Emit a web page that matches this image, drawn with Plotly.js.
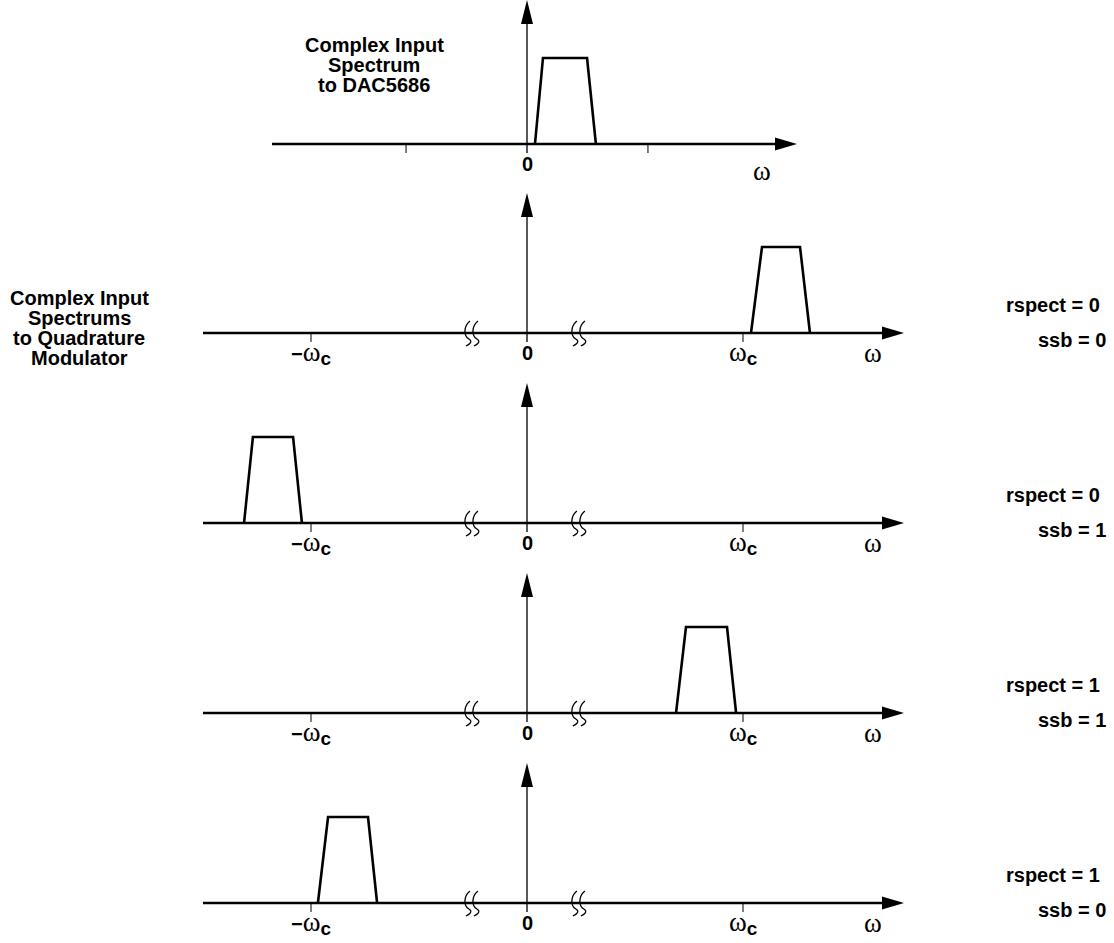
<!DOCTYPE html>
<html>
<head>
<meta charset="utf-8">
<script src="https://cdn.plot.ly/plotly-3.0.1.min.js"></script>
<style>html,body{margin:0;padding:0;background:#fff;}</style>
</head>
<body>
<div id="chart" style="width:1114px;height:943px;"></div>
<script>
// Frequencies are expressed in units of the carrier frequency ωc.
const rspectValues = [null, 0, 0, 1, 1];
const ssbValues = [null, 0, 1, 1, 0];

// Band corners: base left, top left, top right, base right
const bandInput = [0.037, 0.074, 0.278, 0.319];
const bandR0S0 = [1.037, 1.088, 1.264, 1.310];
const bandR0S1 = [-1.310, -1.269, -1.083, -1.042];
const bandR1S1 = [0.690, 0.736, 0.926, 0.968];
const bandR1S0 = [-0.968, -0.921, -0.736, -0.694];
const bandLevel = [0, 1, 1, 0];

const inputTickPos = [-0.56, 0, 0.56];
const inputTickText = ['', '0', ''];
const carrierTickPos = [-1, 0, 1];
const carrierTickText = ['\u2212\u03c9<sub>c</sub>', '0', '\u03c9<sub>c</sub>'];
const breakPos = [-0.255, 0.24];

const inputTitle = ['Complex Input', 'Spectrum', 'to DAC5686'];
const modTitle = ['Complex Input', 'Spectrums', 'to Quadrature', 'Modulator'];

// ---- geometry (pixels) ----
const W = 1114, H = 943;
const zeroPx = 527, pxPerUnit = 216, pxPerLevel = 86;
const baselines = [144, 333, 523, 713, 903];
const FONT = '"Liberation Sans", Arial, sans-serif';
const OMEGA = '<span style="font-family:\'Liberation Serif\',serif;font-weight:normal;font-size:27px;">\u03c9</span>';
const SUBC = '<sub><span style="font-size:19px;">c</span></sub>';

const bands = [bandInput, bandR0S0, bandR0S1, bandR1S1, bandR1S0];
const xRange = [-zeroPx / pxPerUnit, (W - zeroPx) / pxPerUnit];

const layout = {
  width: W, height: H,
  margin: {l: 0, r: 0, t: 0, b: 0},
  paper_bgcolor: '#fff', plot_bgcolor: '#fff',
  showlegend: false,
  font: {family: FONT, size: 20, color: '#000'},
  xaxis: {range: xRange, visible: false, fixedrange: true},
  shapes: [], annotations: []
};

const traces = [];

bands.forEach((band, i) => {
  const yName = i === 0 ? 'y' : 'y' + (i + 1);
  const yKey = i === 0 ? 'yaxis' : 'yaxis' + (i + 1);
  const yb = baselines[i];
  layout[yKey] = {
    range: [-(H - yb) / pxPerLevel, yb / pxPerLevel],
    visible: false, fixedrange: true,
    domain: [0, 1]
  };
  if (i > 0) layout[yKey].overlaying = 'y';

  const isInput = i === 0;
  const axStart = isInput ? (272 - zeroPx) / pxPerUnit : (203 - zeroPx) / pxPerUnit;
  const axEnd = isInput ? (797 - zeroPx) / pxPerUnit : (904 - zeroPx) / pxPerUnit;
  const vTop = isInput ? 144 : 140;

  // horizontal frequency axis
  layout.shapes.push({type: 'line', xref: 'x', yref: yName, x0: axStart, x1: axEnd - 10 / pxPerUnit,
    y0: 0, y1: 0, line: {color: '#000', width: 2.6}});
  layout.shapes.push({type: 'path', xref: 'x', yref: yName, xsizemode: 'pixel', ysizemode: 'pixel',
    xanchor: axEnd, yanchor: 0, path: 'M0,0 L-22,6.5 L-22,-6.5 Z',
    fillcolor: '#000', line: {width: 0}});
  // vertical magnitude axis
  layout.shapes.push({type: 'line', xref: 'x', yref: yName, xsizemode: 'pixel', ysizemode: 'pixel',
    xanchor: 0, yanchor: 0, x0: 0, x1: 0, y0: -9, y1: vTop - 10, line: {color: '#000', width: 1.3}});
  layout.shapes.push({type: 'path', xref: 'x', yref: yName, xsizemode: 'pixel', ysizemode: 'pixel',
    xanchor: 0, yanchor: 0, path: 'M0,' + vTop + ' L-6,' + (vTop - 24) + ' L6,' + (vTop - 24) + ' Z',
    fillcolor: '#000', line: {width: 0}});

  const tickPos = isInput ? inputTickPos : carrierTickPos;
  const tickText = isInput ? inputTickText : carrierTickText;
  tickPos.forEach((t, k) => {
    if (t !== 0) {
      layout.shapes.push({type: 'line', xref: 'x', yref: yName, ysizemode: 'pixel', yanchor: 0,
        x0: t, x1: t, y0: -9, y1: 0, line: {color: '#000', width: 1}});
    }
    if (tickText[k]) {
      const txt = tickText[k].replace('\u03c9', OMEGA).replace('<sub>c</sub>', SUBC);
      layout.annotations.push({xref: 'x', yref: yName, x: t, y: 0, yshift: -20,
        text: '<b>' + txt + '</b>', showarrow: false, xanchor: 'center', yanchor: 'middle',
        font: {family: FONT, size: 20, color: '#000'}});
    }
  });
  // ω label at the end of the frequency axis
  layout.annotations.push({xref: 'x', yref: yName, x: isInput ? 1.088 : 1.602, y: 0,
    yshift: isInput ? -27 : -20, text: OMEGA, showarrow: false, xanchor: 'center', yanchor: 'middle',
    font: {family: FONT, size: 20, color: '#000'}});

  if (!isInput) {
    // axis break marks on either side of zero
    breakPos.forEach(bp => {
      [-4, 4].forEach(off => {
        layout.shapes.push({type: 'path', xref: 'x', yref: yName, xsizemode: 'pixel', ysizemode: 'pixel',
          xanchor: bp, yanchor: 0,
          path: 'M' + (off + 2) + ',12 C' + (off - 5) + ',6 ' + (off - 4) + ',-3 ' +
                (off + 1) + ',-6 S' + (off - 0) + ',-12 ' + (off - 2) + ',-13',
          line: {color: '#000', width: 1.3}, fillcolor: 'rgba(0,0,0,0)'});
      });
    });
    layout.annotations.push({xref: 'paper', yref: yName, x: 1102 / W, y: 0, yshift: 28,
      text: '<b>rspect = ' + rspectValues[i] + '</b>', showarrow: false, xanchor: 'right', yanchor: 'middle',
      font: {family: FONT, size: 20, color: '#000'}});
    layout.annotations.push({xref: 'paper', yref: yName, x: 1108 / W, y: 0, yshift: -7,
      text: '<b>ssb = ' + ssbValues[i] + '</b>', showarrow: false, xanchor: 'right', yanchor: 'middle',
      font: {family: FONT, size: 20, color: '#000'}});
  }

  traces.push({type: 'scatter', mode: 'lines', x: band, y: bandLevel, xaxis: 'x', yaxis: yName,
    line: {color: '#000', width: 2.6}, hoverinfo: 'skip'});
});

inputTitle.forEach((line, k) => {
  layout.annotations.push({xref: 'paper', yref: 'paper', x: 374 / W, y: 1 - (45 + 20 * k) / H,
    text: '<b>' + line + '</b>', showarrow: false, xanchor: 'center', yanchor: 'middle'});
});
modTitle.forEach((line, k) => {
  layout.annotations.push({xref: 'paper', yref: 'paper', x: 79 / W, y: 1 - (298 + 20 * k) / H,
    text: '<b>' + line + '</b>', showarrow: false, xanchor: 'center', yanchor: 'middle'});
});

Plotly.newPlot('chart', traces, layout, {staticPlot: true, displayModeBar: false});
</script>
</body>
</html>
